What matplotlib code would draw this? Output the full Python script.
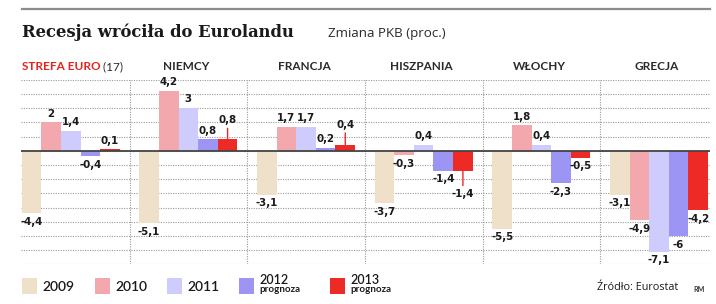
import numpy as np
import matplotlib
matplotlib.use('Agg')
import matplotlib.pyplot as plt
from matplotlib.patches import Rectangle
from matplotlib.lines import Line2D

# data (GDP change, %)
countries = ['STREFA EURO', 'NIEMCY', 'FRANCJA', 'HISZPANIA', 'WŁOCHY', 'GRECJA']
years = ['2009', '2010', '2011', '2012', '2013']
v2009 = [-4.4, -5.1, -3.1, -3.7, -5.5, -3.1]
v2010 = [2.0, 4.2, 1.7, -0.3, 1.8, -4.9]
v2011 = [1.4, 3.0, 1.7, 0.4, 0.4, -7.1]
v2012 = [-0.4, 0.8, 0.2, -1.4, -2.3, -6.0]
v2013 = [0.1, 0.8, 0.4, -1.4, -0.5, -4.2]
series = [v2009, v2010, v2011, v2012, v2013]

colors = ['#EEE0C9', '#F2A8AC', '#CDCCFD', '#9C95F3', '#EE2A26']
legend_sub = ['', '', '', 'prognoza', 'prognoza']

# labels pushed away from the bar with a small red leader line: (country, year) -> px
leaders = {(1, 4): 11, (2, 4): 12, (3, 4): 15}

W, H = 716, 304
fig = plt.figure(figsize=(W / 100, H / 100), dpi=100)
fig.patch.set_facecolor('white')

def fx(px):
    return px / W

def fy(px):
    return 1 - px / H

ax = fig.add_axes([fx(20.7), fy(264.3), fx(710) - fx(20.7), fy(79.7) - fy(264.3)])
ax.set_xlim(-0.05, 35.1)
ax.set_ylim(-8, 5)
ax.axis('off')

# grid
for y in range(-8, 6):
    ax.axhline(y, color='#9a9a9a', lw=0.8, ls=(0, (1, 1.2)), zorder=0)
for i in range(1, len(countries)):
    ax.axvline(i * 6 - 0.5, color='#9a9a9a', lw=0.8, ls=(0, (1, 1.2)), zorder=0)

def fmt(v):
    s = ('%g' % v).replace('.', ',')
    return s

lbl_font = dict(family='DejaVu Sans', fontsize=7.4, fontweight='bold', color='#1a1a1a')

for j, vals in enumerate(series):
    xs = np.arange(len(countries)) * 6 + j + 0.5
    ax.bar(xs, vals, width=1.0, color=colors[j], zorder=2, linewidth=0)
    for i, (x, v) in enumerate(zip(xs, vals)):
        sgn = 1 if v >= 0 else -1
        if (i, j) in leaders:
            L = leaders[(i, j)] * 0.72
            ax.annotate('', xy=(x, v), xytext=(0, sgn * L), textcoords='offset points',
                        arrowprops=dict(arrowstyle='-', color='#EE2A26', lw=1.0,
                                        shrinkA=0, shrinkB=0), zorder=4)
            ax.annotate(fmt(v), xy=(x, v), xytext=(0, sgn * (L + 6)), textcoords='offset points',
                        ha='center', va='center', zorder=5, **lbl_font)
        else:
            ax.annotate(fmt(v), xy=(x, v), xytext=(0, sgn * 6.2), textcoords='offset points',
                        ha='center', va='center', zorder=5, **lbl_font)

ax.axhline(0, color='#444444', lw=1.3, zorder=3)

# country headers
tr = ax.get_xaxis_transform()
cat_font = dict(family='Lato', fontsize=8.5, fontweight='bold', color='#2a2a2a')
t0 = ax.text(0.0, 1.053, countries[0], transform=tr, ha='left', va='baseline',
             **dict(cat_font, color='#E8231E'))
ax.annotate(' (17)', xy=(1, 0), xycoords=t0, ha='left', va='bottom',
            family='Lato', fontsize=8.5, color='#2a2a2a')
for i in range(1, len(countries)):
    ax.text(i * 6 + 2.4, 1.053, countries[i], transform=tr, ha='center', va='baseline', **cat_font)

# header
fig.add_artist(Line2D([fx(22), fx(710)], [fy(9), fy(9)], color='#8c8c8c', lw=1.6))
fig.text(fx(22), fy(37), 'Recesja wróciła do Eurolandu', family='DejaVu Serif',
         fontweight='bold', fontsize=11.8, color='#1a1a1a', va='baseline')
fig.text(fx(328), fy(37), 'Zmiana PKB (proc.)', family='Open Sans', fontsize=9.6,
         color='#2a2a2a', va='baseline')

# legend
sw_x = [22, 95, 167, 239, 330]
for k in range(len(years)):
    fig.add_artist(Rectangle((fx(sw_x[k]), fy(294)), 15 / W, 16 / H,
                             transform=fig.transFigure, color=colors[k], lw=0))
    tx = fx(sw_x[k] + 20)
    if legend_sub[k]:
        fig.text(tx, fy(280), years[k], family='Lato', fontsize=9, fontweight='semibold',
                 color='#1a1a1a', va='center')
        fig.text(tx, fy(290), legend_sub[k], family='Lato', fontsize=7, fontweight='bold',
                 color='#1a1a1a', va='center')
    else:
        fig.text(tx, fy(287), years[k], family='Lato', fontsize=10, fontweight='semibold',
                 color='#1a1a1a', va='center')

fig.text(fx(597), fy(288), 'Źródło: Eurostat', family='Open Sans', fontsize=7.8,
         color='#1a1a1a', va='center')
fig.text(fx(693), fy(289), 'RM', family='Lato', fontsize=5, fontweight='bold',
         color='#333333', va='center')

fig.savefig('out.png', dpi=100, facecolor='white')
